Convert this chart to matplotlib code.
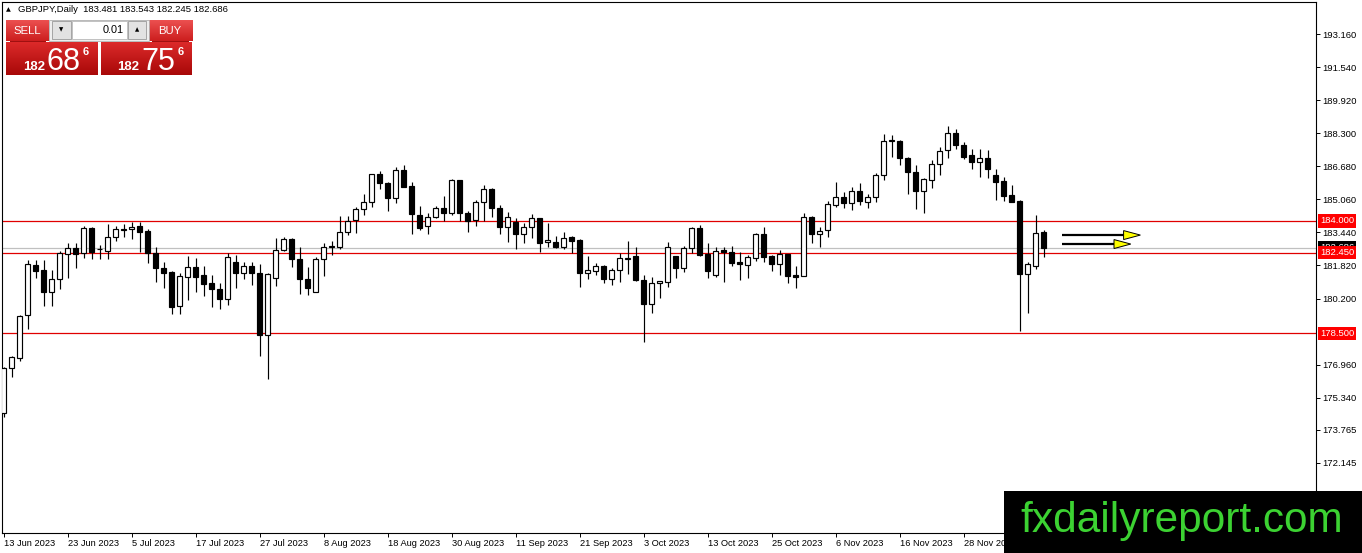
import numpy as np
import matplotlib
matplotlib.use("Agg")
import matplotlib.pyplot as plt
from matplotlib.patches import Rectangle, Polygon
from matplotlib.colors import LinearSegmentedColormap
import matplotlib.transforms as mtransforms

plt.rcParams['font.family'] = ['Liberation Sans', 'DejaVu Sans']

# ---------------- data ----------------
symbol_text = "GBPJPY,Daily  183.481 183.543 182.245 182.686"

opens = [174.6, 176.81, 177.26, 179.37, 181.84, 181.59, 180.53, 181.14, 182.38, 182.66,
         182.44, 183.64, 182.61, 182.54, 183.23, 183.58, 183.59, 183.75, 183.51, 182.41,
         181.71, 181.5, 179.83, 181.26, 181.76, 181.33, 180.94, 180.65, 180.2, 181.99,
         181.43, 181.79, 181.43, 178.4, 181.19, 182.58, 183.1, 182.12, 181.14, 180.53,
         182.12, 182.72, 182.74, 183.44, 184.05, 184.57, 184.92, 186.29, 185.88, 185.11,
         186.5, 185.72, 184.29, 183.75, 184.21, 184.62, 184.41, 186.01, 184.41, 184.05,
         184.92, 185.56, 184.62, 183.69, 183.97, 183.35, 183.69, 184.13, 182.95, 182.95,
         182.74, 183.2, 183.07, 181.46, 181.56, 181.79, 181.18, 181.59, 182.16, 182.3,
         181.1, 179.92, 180.94, 181.02, 182.28, 181.68, 182.66, 183.64, 182.36, 181.35,
         182.58, 182.46, 181.99, 181.82, 182.17, 183.35, 182.28, 181.89, 182.36, 181.35,
         181.32, 184.21, 183.35, 183.56, 184.79, 185.2, 184.87, 185.47, 184.95, 185.2,
         186.26, 187.92, 187.93, 187.08, 186.39, 185.49, 186.01, 186.78, 187.49, 188.31,
         187.73, 187.24, 186.87, 187.08, 186.26, 185.98, 185.28, 185.0, 181.4, 181.81,
         183.481]
highs = [176.85, 177.4, 179.4, 182.08, 182.08, 182.08, 181.59, 182.54, 182.93, 182.9,
         183.77, 183.72, 182.82, 183.85, 183.77, 183.85, 183.97, 183.97, 183.59, 182.74,
         182.0, 181.56, 181.43, 182.28, 182.17, 181.79, 181.35, 180.97, 182.44, 182.33,
         182.0, 182.0, 181.89, 181.43, 183.15, 183.2, 183.15, 182.71, 181.76, 182.22,
         182.93, 183.03, 184.25, 184.26, 184.7, 185.33, 186.3, 186.46, 185.93, 186.64,
         186.75, 185.9, 184.74, 184.41, 184.74, 185.23, 186.06, 186.03, 184.51, 185.03,
         185.77, 185.6, 184.79, 184.43, 184.13, 183.89, 184.33, 184.16, 183.89, 183.28,
         183.44, 183.28, 183.1, 182.28, 181.95, 181.84, 181.68, 182.41, 183.03, 182.74,
         181.35, 181.27, 181.06, 182.95, 182.3, 182.77, 183.72, 183.8, 182.9, 182.74,
         182.74, 182.77, 182.46, 182.33, 183.43, 183.72, 182.33, 182.58, 182.4, 181.81,
         184.38, 184.25, 183.69, 184.98, 185.93, 185.44, 185.69, 185.88, 185.33, 186.34,
         188.26, 188.22, 187.95, 187.13, 186.75, 186.1, 187.0, 187.65, 188.67, 188.5,
         187.85, 187.52, 187.52, 187.49, 186.54, 186.18, 185.77, 185.03, 182.0, 184.29,
         183.543]
lows = [174.4, 176.35, 177.14, 178.73, 181.19, 179.84, 179.84, 180.67, 181.23, 181.68,
        182.2, 182.12, 182.12, 182.12, 183.03, 183.2, 183.1, 182.49, 181.95, 181.02,
        180.74, 179.43, 179.43, 180.15, 180.53, 180.32, 179.76, 179.71, 179.88, 180.74,
        181.14, 180.86, 177.37, 176.27, 180.81, 182.55, 181.73, 180.41, 180.37, 180.5,
        181.3, 182.33, 182.61, 183.31, 183.43, 184.29, 184.67, 185.56, 184.51, 184.87,
        185.65, 183.35, 183.56, 183.35, 184.13, 184.0, 184.29, 184.0, 183.48, 183.75,
        184.0, 184.21, 183.35, 182.98, 182.62, 182.9, 183.15, 182.49, 182.74, 182.69,
        182.61, 182.41, 180.77, 181.18, 181.35, 180.97, 180.86, 181.02, 181.4, 181.05,
        178.07, 179.51, 180.23, 180.77, 181.22, 181.51, 182.44, 182.28, 181.22, 181.27,
        181.02, 181.79, 181.13, 181.23, 182.05, 182.0, 181.56, 181.35, 180.97, 180.74,
        181.3, 182.9, 182.71, 183.2, 184.67, 184.62, 184.54, 184.79, 184.62, 184.95,
        186.01, 187.16, 186.75, 185.33, 184.57, 184.41, 185.6, 186.26, 187.08, 187.52,
        187.03, 186.54, 186.18, 186.1, 185.03, 184.98, 184.93, 178.6, 179.5, 181.63,
        182.245]
closes = [176.8, 177.31, 179.33, 181.87, 181.56, 180.53, 181.14, 182.44, 182.66, 182.38,
          183.64, 182.49, 182.63, 183.2, 183.59, 183.6, 183.72, 183.47, 182.41, 181.68,
          181.46, 179.79, 181.3, 181.73, 181.26, 180.91, 180.65, 180.2, 182.22, 181.43,
          181.79, 181.43, 178.4, 181.4, 182.58, 183.1, 182.12, 181.14, 180.7, 182.12,
          182.74, 182.76, 183.44, 184.0, 184.57, 184.92, 186.29, 185.85, 185.11, 186.5,
          185.69, 184.33, 183.67, 184.18, 184.62, 184.41, 186.01, 184.41, 184.02, 184.95,
          185.56, 184.62, 183.69, 184.21, 183.35, 183.69, 184.13, 182.94, 183.07, 182.74,
          183.18, 183.03, 181.43, 181.59, 181.79, 181.18, 181.59, 182.17, 182.18, 181.1,
          179.92, 180.94, 181.04, 182.71, 181.68, 182.67, 183.64, 182.33, 181.56, 182.54,
          182.46, 181.95, 181.87, 182.25, 183.36, 182.25, 181.89, 182.36, 181.32, 181.27,
          184.21, 183.35, 183.53, 184.82, 185.2, 184.87, 185.47, 184.98, 185.2, 186.26,
          187.9, 187.94, 187.08, 186.39, 185.49, 186.05, 186.78, 187.45, 188.31, 187.73,
          187.16, 186.87, 187.08, 186.55, 185.93, 185.24, 184.95, 181.4, 181.87, 183.43,
          182.686]

date_labels = ["13 Jun 2023", "23 Jun 2023", "5 Jul 2023", "17 Jul 2023", "27 Jul 2023",
               "8 Aug 2023", "18 Aug 2023", "30 Aug 2023", "11 Sep 2023", "21 Sep 2023",
               "3 Oct 2023", "13 Oct 2023", "25 Oct 2023", "6 Nov 2023", "16 Nov 2023",
               "28 Nov 2023"]
date_label_bars = [0, 8, 16, 24, 32, 40, 48, 56, 64, 72, 80, 88, 96, 104, 112, 120]

price_ticks = [193.160, 191.540, 189.920, 188.300, 186.680, 185.060, 183.440,
               181.820, 180.200, 176.960, 175.340, 173.765, 172.145]
price_tick_labels = ["193.160", "191.540", "189.920", "188.300", "186.680", "185.060",
                     "183.440", "181.820", "180.200", "176.960", "175.340", "173.765",
                     "172.145"]

levels = [184.000, 182.450, 178.500]
level_labels = ["184.000", "182.450", "178.500"]
bid_price = 182.686

arrow_y = [183.31, 182.87]
arrow_start = [132.3, 132.3]
arrow_end = [142.1, 140.9]

# ---------------- figure ----------------
W, H = 1362, 553
fig = plt.figure(figsize=(W / 100, H / 100), dpi=100)
fig.patch.set_facecolor('white')

ax_l, ax_r, ax_t, ax_b = 2, 1316, 2, 533
ax = fig.add_axes([ax_l / W, (H - ax_b) / H, (ax_r - ax_l) / W, (ax_b - ax_t) / H])
ax.set_facecolor('white')
for s in ax.spines.values():
    s.set_color('black')
    s.set_linewidth(0.8)

px_per_bar = 8.0
bar0_px = 3.6
ax.set_xlim((ax_l - bar0_px) / px_per_bar, (ax_r - bar0_px) / px_per_bar)
ax.set_ylim(168.706, 194.735)

n = len(opens)
xs = np.arange(n)
o = np.array(opens); h = np.array(highs); l = np.array(lows); c = np.array(closes)

# support / resistance lines and bid line
ax.axhline(bid_price, color='#c0c0c0', lw=0.9, zorder=1)
for lv in levels:
    ax.axhline(lv, color='#e00000', lw=0.9, zorder=1.5)

# candles
ax.vlines(xs, l, h, color='black', lw=0.85, zorder=2)
bull = c >= o
body_bottom = np.minimum(o, c)
body_h = np.maximum(np.abs(c - o), 0.03)
ax.bar(xs[bull], body_h[bull], bottom=body_bottom[bull], width=0.6,
       color='white', edgecolor='black', linewidth=0.85, zorder=3)
ax.bar(xs[~bull], body_h[~bull], bottom=body_bottom[~bull], width=0.6,
       color='black', edgecolor='black', linewidth=0.85, zorder=3)

# arrows
head_len = 2.1
head_half = 0.22
for ay, a0, a1 in zip(arrow_y, arrow_start, arrow_end):
    ax.plot([a0, a1 - head_len * 0.6], [ay, ay], color='black', lw=1.6,
            solid_capstyle='butt', zorder=4)
    ax.add_patch(Polygon([[a1 - head_len, ay + head_half], [a1, ay],
                          [a1 - head_len, ay - head_half]], closed=True,
                         facecolor='#ffff00', edgecolor='black', lw=0.7, zorder=5))

# axes ticks
ax.yaxis.tick_right()
ax.set_yticks(price_ticks)
ax.set_yticklabels(price_tick_labels)
ax.tick_params(axis='y', direction='out', length=3, width=0.7, pad=1.8,
               labelsize=6.8, colors='black')
ax.set_xticks(date_label_bars)
ax.set_xticklabels(date_labels)
for t in ax.get_xticklabels():
    t.set_horizontalalignment('left')
ax.tick_params(axis='x', direction='out', length=3, width=0.7, pad=1.5,
               labelsize=6.7, colors='black')

# price labels on the right axis
trans = mtransforms.blended_transform_factory(ax.transAxes, ax.transData)
lab_x = 1.0 + 4.0 / (ax_r - ax_l)
ax.text(lab_x, bid_price, "182.686", transform=trans, ha='left', va='center',
        fontsize=6.8, color='white', clip_on=False, zorder=6,
        bbox=dict(boxstyle='square,pad=0.22', facecolor='black', edgecolor='none'))
for lv, lt in zip(levels, level_labels):
    ax.text(lab_x, lv, lt, transform=trans, ha='left', va='center',
            fontsize=6.8, color='white', clip_on=False, zorder=7,
            bbox=dict(boxstyle='square,pad=0.22', facecolor='#ff0000', edgecolor='none'))


# ---------------- trade panel (top-left) ----------------
def fx(x):
    return x / W


def fy(y):
    return 1 - y / H


def grad_box(x0, y0, x1, y1, ctop, cbot, z=20):
    a = fig.add_axes([fx(x0), fy(y1), (x1 - x0) / W, (y1 - y0) / H], zorder=z)
    cmap = LinearSegmentedColormap.from_list('g', [ctop, cbot])
    a.imshow(np.linspace(0, 1, 64).reshape(-1, 1), aspect='auto', cmap=cmap,
             extent=[0, 1, 0, 1], interpolation='bilinear')
    a.set_axis_off()
    return a


def rect(x0, y0, x1, y1, fc, ec='none', lw=0.0, z=21):
    fig.add_artist(Rectangle((fx(x0), fy(y1)), (x1 - x0) / W, (y1 - y0) / H,
                             transform=fig.transFigure, facecolor=fc, edgecolor=ec,
                             linewidth=lw, zorder=z))


fig.text(fx(6), fy(10), "▲", fontsize=4.5, color='black', ha='left', va='center',
         family=['DejaVu Sans'], zorder=30)
fig.text(fx(18), fy(10), symbol_text, fontsize=6.8, color='black', ha='left',
         va='center', zorder=30)

grad_box(6, 20, 49, 41, '#ec5050', '#cc1e1e')
grad_box(149, 20, 192, 41, '#ec5050', '#cc1e1e')
grad_box(6, 42, 98, 75, '#dc2a2a', '#a80808')
grad_box(101, 42, 192, 75, '#dc2a2a', '#a80808')
rect(10, 41, 46, 42, '#a01010', z=25)
rect(152, 41, 189, 42, '#a01010', z=25)

rect(49, 20, 149, 41, '#eeeeee', ec='#b0b0b0', lw=0.6)
rect(52, 21, 71, 39, '#e2e2e2', ec='#9a9a9a', lw=0.6, z=22)
rect(72, 21, 127, 39, 'white', ec='#b8b8b8', lw=0.6, z=22)
rect(128, 21, 146, 39, '#e2e2e2', ec='#9a9a9a', lw=0.6, z=22)
fig.text(fx(61.5), fy(30), "▼", fontsize=4.0, color='black', ha='center', va='center',
         family=['DejaVu Sans'], zorder=30)
fig.text(fx(137), fy(30), "▲", fontsize=4.0, color='black', ha='center', va='center',
         family=['DejaVu Sans'], zorder=30)
fig.text(fx(124), fy(30), "0.01", fontsize=7.8, color='black', ha='right', va='center',
         zorder=30)
fig.text(fx(27), fy(30.5), "SELL", fontsize=8.2, color='white', ha='center', va='center',
         zorder=30)
fig.text(fx(170), fy(30.5), "BUY", fontsize=8.2, color='white', ha='center', va='center',
         zorder=30)

fig.text(fx(23), fy(70), "182", fontsize=9.5, color='white', ha='left', va='baseline',
         weight='bold', zorder=30)
fig.text(fx(46), fy(70), "68", fontsize=22, color='white', ha='left', va='baseline',
         zorder=30)
fig.text(fx(83), fy(55), "6", fontsize=8, color='white', ha='left', va='baseline',
         weight='bold', zorder=30)
fig.text(fx(117), fy(70), "182", fontsize=9.5, color='white', ha='left', va='baseline',
         weight='bold', zorder=30)
fig.text(fx(141), fy(70), "75", fontsize=22, color='white', ha='left', va='baseline',
         zorder=30)
fig.text(fx(178), fy(55), "6", fontsize=8, color='white', ha='left', va='baseline',
         weight='bold', zorder=30)

# ---------------- watermark ----------------
fig.add_artist(Rectangle((fx(1004), 0), (W - 1004) / W, (H - 491) / H,
                         transform=fig.transFigure, facecolor='black',
                         edgecolor='none', zorder=40))
fig.text(fx(1182), fy(532), "fxdailyreport.com", fontsize=30.5, color='#3cd232',
         ha='center', va='baseline', zorder=41)

fig.savefig("out.png", dpi=100, facecolor='white')
